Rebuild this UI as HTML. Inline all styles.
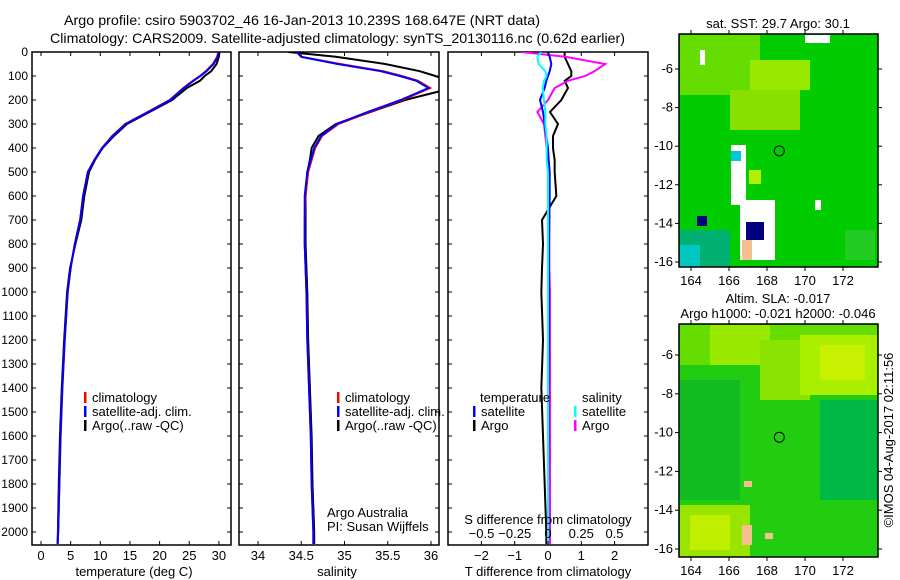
<!DOCTYPE html>
<html><head><meta charset="utf-8"><style>
body{margin:0;background:#fff}
svg{display:block;font-family:"Liberation Sans",sans-serif}
text{font-size:13px;fill:#000}
</style></head><body>
<svg id="s" width="900" height="580" xmlns="http://www.w3.org/2000/svg">
<defs>
<clipPath id="c1"><rect x="32" y="52" width="199" height="493"/></clipPath>
<clipPath id="c2"><rect x="239" y="52" width="200" height="493"/></clipPath>
<clipPath id="c3"><rect x="448" y="52" width="200" height="493"/></clipPath>
</defs>
<text x="64" y="25" textLength="476" lengthAdjust="spacingAndGlyphs" style="font-size:14px">Argo profile: csiro 5903702_46 16-Jan-2013 10.239S 168.647E (NRT data)</text>
<text x="50" y="43" textLength="575" lengthAdjust="spacingAndGlyphs" style="font-size:14px">Climatology: CARS2009. Satellite-adjusted climatology: synTS_20130116.nc (0.62d earlier)</text>
<g id="g"></g>
</svg>
<script>
// depth levels (m)
const depths = [0,20,50,80,100,120,150,200,250,300,350,400,450,500,600,700,800,900,1000,1200,1400,1600,1800,2000,2050];
// temperature (deg C)
const tempClim = [29.9,29.7,29.0,27.8,26.8,25.6,24.0,21.7,18.0,14.2,12.0,10.3,9.0,7.9,7.1,6.6,5.7,5.0,4.5,4.0,3.6,3.3,3.1,2.9,2.8];
const tempSat  = [30.0,29.8,29.1,27.9,26.9,25.7,24.1,21.8,18.1,14.3,12.1,10.3,9.0,7.9,7.1,6.6,5.7,5.0,4.5,4.0,3.6,3.3,3.1,2.9,2.8];
const tempArgo = [30.1,30.0,29.6,28.7,27.6,26.8,24.6,22.1,18.3,14.5,12.3,10.4,9.1,8.1,7.3,6.8,5.8,4.9,4.4,3.9,3.5,3.2,3.0,2.85,2.8];
// salinity
const salClim = [34.45,34.5,34.95,35.45,35.66,35.85,35.99,35.67,35.29,34.93,34.74,34.66,34.62,34.58,34.55,34.54,34.54,34.55,34.56,34.57,34.59,34.61,34.62,34.64,34.64];
const salSat  = [34.45,34.5,34.92,35.42,35.64,35.83,35.97,35.65,35.27,34.91,34.73,34.65,34.61,34.57,34.54,34.54,34.54,34.55,34.56,34.57,34.59,34.61,34.62,34.64,34.64];
const salArgo = [34.35,34.9,35.47,35.87,36.05,36.2,36.25,35.7,35.3,34.9,34.7,34.62,34.6,34.57,34.55,34.55,34.55,34.56,34.57,34.58,34.6,34.62,34.63,34.65,34.65];
// differences from climatology
const dTArgo = [0.5,0.5,0.6,0.7,0.7,0.5,0.6,0.4,0.06,0.3,0.15,0.15,0.2,0.2,0.25,-0.18,-0.15,-0.18,-0.2,-0.15,-0.2,-0.15,-0.1,-0.05,-0.05];
const dTSat  = [0.0,0.05,0.1,0.05,0.0,-0.05,-0.1,-0.24,-0.15,-0.1,-0.05,0.0,0.02,0.05,0.05,0.04,0.03,0.03,0.02,0.02,0.01,0.01,0.0,0.0,0.0];
const dSArgo = [-0.2,0.13,0.43,0.35,0.28,0.15,0.05,0.0,-0.08,-0.03,-0.02,-0.01,0.0,0.0,0.01,0.01,0.01,0.01,0.015,0.015,0.015,0.015,0.015,0.015,0.015];
const dSSat  = [-0.05,-0.08,-0.07,-0.02,-0.01,-0.03,-0.04,-0.03,-0.02,-0.02,-0.01,-0.01,-0.01,0.0,0.0,0.0,0.0,0.0,0.0,0.0,0.0,0.0,0.0,0.0,0.0];
const depthTicks = [0,100,200,300,400,500,600,700,800,900,1000,1100,1200,1300,1400,1500,1600,1700,1800,1900,2000];
const tempTicks = [0,5,10,15,20,25,30];
const salTicks = [34,34.5,35,35.5,36];
const tdTicks = [-2,-1,0,1,2];
const sdTicks = [-0.5,-0.25,0,0.25,0.5];
const lonTicks = [164,166,168,170,172];
const latTicks = [-6,-8,-10,-12,-14,-16];

const NS="http://www.w3.org/2000/svg", G=document.getElementById('g');
function mk(tag,attrs,parent){const e=document.createElementNS(NS,tag);for(const k in attrs)e.setAttribute(k,attrs[k]);(parent||G).appendChild(e);return e;}
function txt(x,y,s,anchor){const e=mk('text',{x:x,y:y,'text-anchor':anchor||'middle'});e.textContent=s;return e;}
const TOP=52, BOT=545;
const yD = d => TOP + d*0.24;
const xT = t => 41 + t*5.93;
const xS = s => 258 + (s-34)*86.5;
const xDT = t => 548 + t*33.3;
const xDS = s => 548 + s*133;

function frame(x0,x1,name){
  const r=mk('rect',{x:x0,y:TOP,width:x1-x0,height:BOT-TOP,fill:'none',stroke:'#000','stroke-width':1.5});
  
  
  depthTicks.forEach(d=>{mk('line',{x1:x0,x2:x0+4,y1:yD(d),y2:yD(d),stroke:'#000'});mk('line',{x1:x1-4,x2:x1,y1:yD(d),y2:yD(d),stroke:'#000'});});
}
function xticks(ticks,f,labels,y){ticks.forEach((t,i)=>{mk('line',{x1:f(t),x2:f(t),y1:BOT,y2:BOT-4,stroke:'#000'});mk('line',{x1:f(t),x2:f(t),y1:TOP,y2:TOP+4,stroke:'#000'});const e=txt(f(t),y,labels[i]);});}
function line(xs,fx,color,name,clip){
  const p=mk('polyline',{points:xs.map((v,i)=>fx(v)+','+yD(depths[i])).join(' '),fill:'none',stroke:color,'stroke-width':2,'clip-path':'url(#'+clip+')'});
  
  
}
function legend(x,y,items){items.forEach((it,i)=>{mk('rect',{x:x,y:y+i*14-10,width:2.5,height:11,fill:it[0]});const e=txt(x+8,y+i*14,it[1],'start');});}

// panel 1
frame(32,231,'temperature-panel');
depthTicks.forEach(d=>{const e=txt(28,yD(d)+4,String(d),'end');e.setAttribute('style','font-size:12px');});
line(tempArgo,xT,'#000','temp-argo-line','c1');
line(tempClim,xT,'#f00','temp-clim-line','c1');
line(tempSat,xT,'#00f','temp-sat-line','c1');
xticks(tempTicks,xT,tempTicks.map(String),560);
let t=txt(134,576,'temperature (deg C)');
legend(84,402,[['#f00','climatology'],['#00f','satellite-adj. clim.'],['#000','Argo(..raw -QC)']]);

// panel 2
frame(239,439,'salinity-panel');
line(salArgo,xS,'#000','sal-argo-line','c2');
line(salClim,xS,'#f00','sal-clim-line','c2');
line(salSat,xS,'#00f','sal-sat-line','c2');
xticks(salTicks,xS,salTicks.map(String),560);
t=txt(337,576,'salinity');
legend(337,402,[['#f00','climatology'],['#00f','satellite-adj. clim.'],['#000','Argo(..raw -QC)']]);
t=txt(327,517,'Argo Australia','start');
t=txt(327,531,'PI: Susan Wijffels','start');

// panel 3
frame(448,648,'difference-panel');
line(dTArgo,xDT,'#000','dt-argo-line','c3');
line(dSArgo,xDS,'#f0f','ds-argo-line','c3');
line(dTSat,xDT,'#00f','dt-sat-line','c3');
line(dSSat,xDS,'#0ff','ds-sat-line','c3');
tdTicks.forEach(v=>{mk('line',{x1:xDT(v),x2:xDT(v),y1:BOT,y2:BOT-4,stroke:'#000'});mk('line',{x1:xDT(v),x2:xDT(v),y1:TOP,y2:TOP+4,stroke:'#000'});const e=txt(xDT(v),560,String(v).replace('-','\u2212'));});
sdTicks.forEach(v=>{const e=txt(xDS(v),538,String(v).replace('-','\u2212'));});
t=txt(548,524,'S difference from climatology');
t=txt(548,576,'T difference from climatology');
t=txt(480,402,'temperature','start');
t=txt(582,402,'salinity','start');
legend(473,416,[['#00f','satellite'],['#000','Argo']]);
legend(574,416,[['#0ff','satellite'],['#f0f','Argo']]);

// maps
const mapX0=679, mapX1=878;
const lonX = l => 691 + (l-164)*19;
function map(y0,y1,latY,base,patches,name,titles){
  const g=mk('g',{});
  
  
  mk('rect',{x:mapX0,y:y0,width:mapX1-mapX0,height:y1-y0,fill:base},g);
  patches.forEach(p=>mk('rect',{x:p[0],y:p[1],width:p[2],height:p[3],fill:p[4]},g));
  mk('rect',{x:mapX0,y:y0,width:mapX1-mapX0,height:y1-y0,fill:'none',stroke:'#000','stroke-width':1.5},g);
  mk('circle',{cx:lonX(168.647),cy:latY(-10.239),r:5,fill:'none',stroke:'#000'},g);
  lonTicks.forEach(l=>{mk('line',{x1:lonX(l),x2:lonX(l),y1:y1,y2:y1+4,stroke:'#000'});mk('line',{x1:lonX(l),x2:lonX(l),y1:y0,y2:y0-4,stroke:'#000'});const e=txt(lonX(l),y1+18,String(l));});
  latTicks.forEach(l=>{mk('line',{x1:mapX0-4,x2:mapX0,y1:latY(l),y2:latY(l),stroke:'#000'});mk('line',{x1:mapX1,x2:mapX1+4,y1:latY(l),y2:latY(l),stroke:'#000'});const e=txt(mapX0-6,latY(l)+4,String(l),'end');});
  titles.forEach((s,i)=>{const e=txt(778,y0-(titles.length-i-1)*15-6,s);});
}
map(34,267,l=>69+(-6-l)*19.3,'#00cc00',[
 [680,35,80,60,'#66dd00'],[730,90,70,40,'#88e000'],[750,60,60,30,'#99e800'],[749,170,12,14,'#b0f000'],
 [680,230,50,37,'#00b070'],[680,245,20,22,'#00c8c0'],[697,216,10,10,'#000080'],[731,145,15,60,'#ffffff'],
 [740,200,35,60,'#ffffff'],[746,222,18,18,'#000080'],[742,240,10,20,'#f5c090'],[731,151,10,10,'#00c8d8'],
 [805,35,25,8,'#ffffff'],[700,50,5,15,'#ffffff'],[815,200,6,10,'#ffffff'],[845,230,30,30,'#22cc22']
],'sst-map',['sat. SST: 29.7  Argo: 30.1']);
map(324,557,l=>355+(-6-l)*19.4,'#22cc11',[
 [680,325,197,40,'#66dd00'],[710,325,60,40,'#99ea00'],[760,340,50,60,'#88e400'],[800,335,77,60,'#aaee00'],
 [820,345,45,35,'#c8f000'],[680,380,60,120,'#11bb22'],[820,400,57,100,'#00b844'],[680,505,70,52,'#99e400'],
 [690,515,40,35,'#c0f000'],[742,525,10,20,'#f5c090'],[765,533,8,6,'#f5c090'],[744,481,8,6,'#f5c090']
],'sla-map',['Altim. SLA: -0.017','Argo h1000: -0.021  h2000: -0.046']);
t=mk('text',{x:893,y:440,transform:'rotate(-90 893 440)','text-anchor':'middle'});t.textContent='\u00a9IMOS 04-Aug-2017 02:11:56';


</script>
</body></html>
